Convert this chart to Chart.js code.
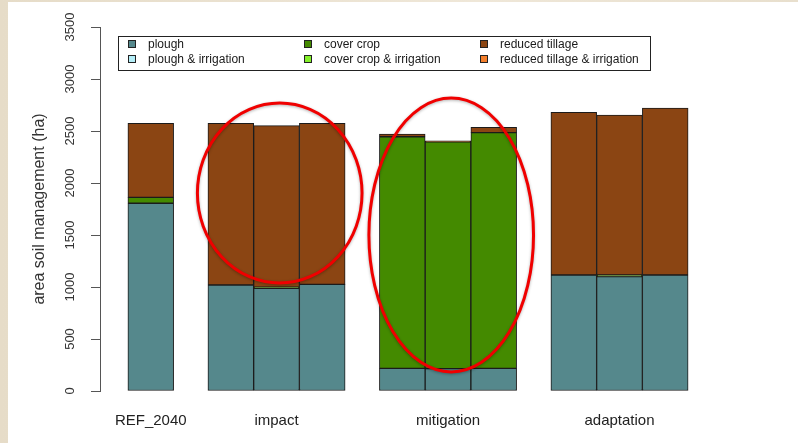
<!DOCTYPE html>
<html>
<head>
<meta charset="utf-8">
<title>Soil management area by scenario</title>
<script src="https://cdn.jsdelivr.net/npm/chart.js@4.4.1/dist/chart.umd.min.js"></script>
<style>
    html, body { margin: 0; padding: 0; }
    body {
        width: 798px;
        height: 443px;
        position: relative;
        overflow: hidden;
        background: linear-gradient(90deg, #e6dcc8 0%, #efe7d8 60%, #e8dfcd 100%);
    }
    .slide {
        position: absolute;
        left: 8px;
        top: 2px;
        right: 0;
        bottom: 0;
        background: #ffffff;
    }
    .chart-box {
        position: absolute;
        left: 0;
        top: 0;
        width: 798px;
        height: 443px;
    }
</style>
</head>
<body>
<div class="slide"></div>
<div class="chart-box"><canvas id="soilChart"></canvas></div>

<script>
// Scenario groups and how many runs each one holds
const groups = ['REF_2040', 'impact', 'mitigation', 'adaptation'];
const runsPerGroup = [1, 3, 3, 3];

// Area (ha) per soil management class, one value per run
const plough        = [1805, 1019,  988, 1026,  218,  215,  218, 1115, 1100, 1115];
const ploughIrr     = [   0,    0,    0,    0,    0,    0,    0,    0,    0,    0];
const coverCrop     = [  57,    0,   10,    0, 2227, 2180, 2266,    0,   15,    0];
const coverCropIrr  = [   0,    0,    0,    0,    0,    0,    0,    0,    0,    0];
const reducedTill   = [ 712, 1555, 1553, 1548,   26,   10,   52, 1565, 1539, 1606];
const reducedTillIrr= [   0,    0,    0,    0,    0,    0,    0,    0,    0,    0];

const yTicks = [0, 500, 1000, 1500, 2000, 2500, 3000, 3500];

// Highlighted groups (circled) with the value range they cover
const highlightGroups = ['impact', 'mitigation'];
const highlightRanges = [[1038, 2769], [183, 2817]];

// Bars inside a group touch; groups are separated by a fixed gap (in bar widths)
const GROUP_GAP = 0.75;

const barX = [];
const groupCenters = [];
const groupSpans = [];
let cursor = 0;
runsPerGroup.forEach((n, g) => {
    if (g > 0) cursor += GROUP_GAP;
    const start = cursor;
    for (let i = 0; i < n; i++) {
        barX.push(cursor + 0.5);
        cursor += 1;
    }
    groupSpans.push([start, cursor]);
    groupCenters.push((start + cursor) / 2);
});
const EDGE = 0.61;

const FONT = '"Liberation Sans", Arial, Helvetica, sans-serif';

function series(label, values, color) {
    return {
        label: label,
        data: values.map((v, i) => ({ x: barX[i], y: v })),
        backgroundColor: color,
        borderColor: '#1b1b1b',
        borderWidth: 1,
        borderSkipped: false,
        barPercentage: 1,
        categoryPercentage: 1
    };
}

const datasets = [
    series('plough', plough, '#55888c'),
    series('plough & irrigation', ploughIrr, '#b4eef8'),
    series('cover crop', coverCrop, '#448a00'),
    series('cover crop & irrigation', coverCropIrr, '#84f02a'),
    series('reduced tillage', reducedTill, '#8b4513'),
    series('reduced tillage & irrigation', reducedTillIrr, '#f47f2c')
];

// Boxed legend in three columns, two rows, drawn inside the plot
const boxLegend = {
    id: 'boxLegend',
    afterDatasetsDraw(chart) {
        const ctx = chart.ctx;
        const area = chart.chartArea;
        const left = area.left + 18;
        const top = area.top + 9;
        const width = 532;
        const height = 34;
        const colX = [left + 10, left + 186, left + 362];
        const rowY = [top + 8, top + 23];

        ctx.save();
        ctx.fillStyle = '#ffffff';
        ctx.fillRect(left, top, width, height);
        ctx.strokeStyle = '#222222';
        ctx.lineWidth = 1;
        ctx.strokeRect(left + 0.5, top + 0.5, width, height);

        ctx.font = '12px ' + FONT;
        ctx.textBaseline = 'middle';
        ctx.textAlign = 'left';
        chart.data.datasets.forEach((ds, i) => {
            const x = colX[Math.floor(i / 2)];
            const y = rowY[i % 2];
            ctx.fillStyle = ds.backgroundColor;
            ctx.fillRect(x, y - 4, 8, 8);
            ctx.strokeStyle = '#222222';
            ctx.strokeRect(x + 0.5, y - 3.5, 7, 7);
            ctx.fillStyle = '#1a1a1a';
            ctx.fillText(ds.label, x + 20, y + 1);
        });
        ctx.restore();
    }
};

// Red ellipses around the highlighted groups
const highlightRings = {
    id: 'highlightRings',
    afterDraw(chart) {
        const xs = chart.scales.x;
        const ys = chart.scales.y;
        const ctx = chart.ctx;
        ctx.save();
        ctx.strokeStyle = '#f00000';
        ctx.lineWidth = 3;
        ctx.shadowColor = 'rgba(0, 0, 0, 0.3)';
        ctx.shadowBlur = 3;
        ctx.shadowOffsetY = 1;
        highlightGroups.forEach((name, k) => {
            const g = groups.indexOf(name);
            const span = groupSpans[g];
            const x0 = xs.getPixelForValue(span[0] - 0.23);
            const x1 = xs.getPixelForValue(span[1] + 0.37);
            const y0 = ys.getPixelForValue(highlightRanges[k][1]);
            const y1 = ys.getPixelForValue(highlightRanges[k][0]);
            ctx.beginPath();
            ctx.ellipse((x0 + x1) / 2, (y0 + y1) / 2, (x1 - x0) / 2, (y1 - y0) / 2, 0, 0, Math.PI * 2);
            ctx.stroke();
        });
        ctx.restore();
    }
};

Chart.defaults.font.family = FONT;
Chart.defaults.color = '#333333';

new Chart(document.getElementById('soilChart'), {
    type: 'bar',
    data: { datasets: datasets },
    options: {
        responsive: true,
        maintainAspectRatio: false,
        animation: false,
        layout: { padding: { top: 27, right: 82, bottom: 0, left: 0 } },
        plugins: {
            legend: { display: false },
            tooltip: { enabled: false }
        },
        scales: {
            x: {
                type: 'linear',
                stacked: true,
                offset: false,
                min: -EDGE,
                max: cursor + EDGE,
                grid: { display: false, drawTicks: false, offset: false },
                border: { display: false },
                afterBuildTicks(scale) {
                    scale.ticks = groupCenters.map(v => ({ value: v }));
                },
                afterFit(scale) { scale.height = 52; },
                ticks: {
                    autoSkip: false,
                    maxRotation: 0,
                    padding: 21,
                    color: '#222222',
                    font: { size: 15 },
                    callback: (value, index) => groups[index]
                }
            },
            y: {
                stacked: true,
                min: 0,
                max: 3500,
                afterBuildTicks(scale) {
                    scale.ticks = yTicks.map(v => ({ value: v }));
                },
                afterFit(scale) { scale.width = 100; },
                grid: {
                    drawOnChartArea: false,
                    drawTicks: true,
                    tickLength: 9,
                    color: '#555555'
                },
                border: { display: true, color: '#555555' },
                ticks: {
                    minRotation: 90,
                    maxRotation: 90,
                    crossAlign: 'center',
                    padding: 6,
                    color: '#333333',
                    font: { size: 13 },
                    callback: value => String(value)
                },
                title: {
                    display: true,
                    text: 'area soil management (ha)',
                    color: '#333333',
                    font: { size: 16 },
                    padding: { top: 30, bottom: 0 }
                }
            }
        }
    },
    plugins: [boxLegend, highlightRings]
});
</script>
</body>
</html>
